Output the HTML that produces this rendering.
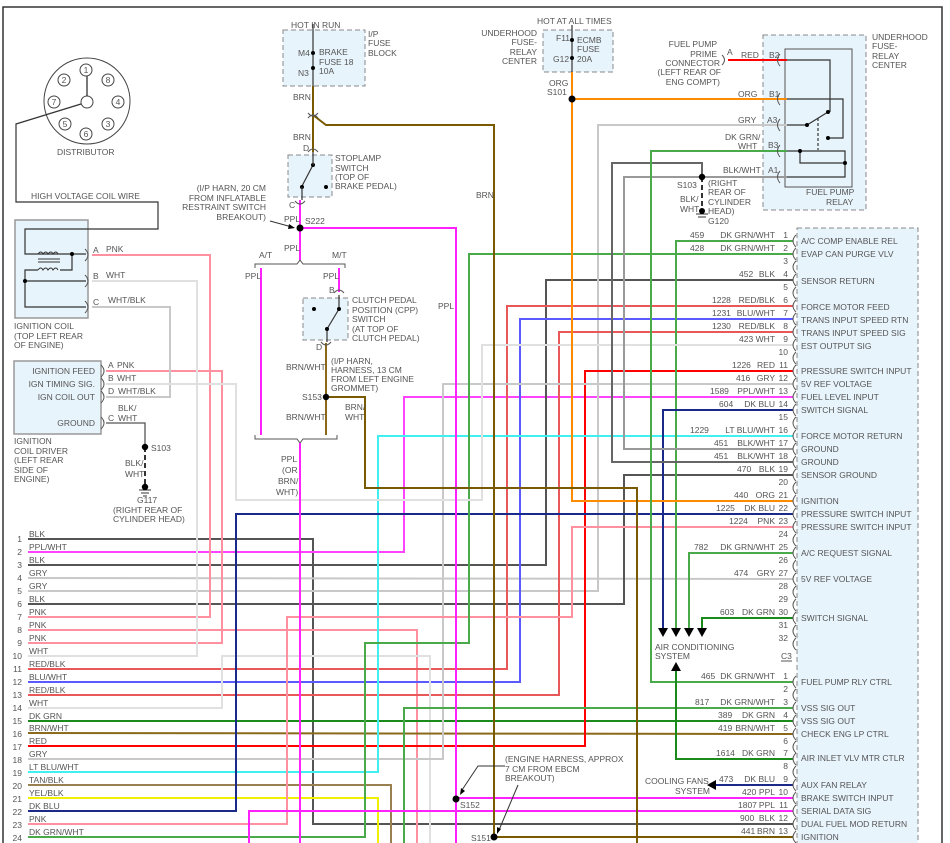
<!DOCTYPE html>
<html><head><meta charset="utf-8">
<style>
html,body{margin:0;padding:0;background:#fff;}
svg{display:block;}
text{font-family:"Liberation Sans",sans-serif;font-size:8.5px;fill:#555;}
.w{fill:none;stroke-width:2;}
.t{fill:none;stroke:#333;stroke-width:1.2;}
</style></head><body>
<svg width="950" height="843" viewBox="0 0 950 843" xmlns="http://www.w3.org/2000/svg">
<polyline points="3,843 3,7 942,7 942,843" fill="none" stroke="#333" stroke-width="1.5"/>

<rect x="283" y="30" width="82" height="56" fill="#e8f4fb" stroke="#888" stroke-dasharray="5,3"/>
<rect x="543" y="30" width="70" height="42" fill="#e8f4fb" stroke="#888" stroke-dasharray="5,3"/>
<rect x="763" y="35" width="103" height="175" fill="#e8f4fb" stroke="#888" stroke-dasharray="5,3"/>
<rect x="785" y="49" width="67" height="138" fill="none" stroke="#555"/>
<rect x="288" y="155" width="44" height="42" fill="#e8f4fb" stroke="#888" stroke-dasharray="5,3"/>
<rect x="303" y="298" width="45" height="42" fill="#e8f4fb" stroke="#888" stroke-dasharray="5,3"/>
<rect x="15" y="220" width="73" height="98" fill="#e8f4fb" stroke="#999" stroke-width="1.5"/>
<rect x="14" y="361" width="87" height="73" fill="#e8f4fb" stroke="#999" stroke-width="1.5"/>
<rect x="797" y="228" width="121" height="620" fill="#e8f4fc" stroke="#888" stroke-dasharray="5,3"/>

<circle cx="87" cy="101" r="43" fill="none" stroke="#444"/>
<circle cx="87" cy="102" r="6" fill="#fff" stroke="#444"/>
<line x1="87" y1="96" x2="87" y2="76" stroke="#222" stroke-width="1.2"/>
<g fill="none" stroke="#444"><circle cx="86" cy="70" r="6"/><circle cx="64" cy="80" r="6"/><circle cx="108" cy="80" r="6"/><circle cx="54" cy="102" r="6"/><circle cx="118" cy="102" r="6"/><circle cx="65" cy="124" r="6"/><circle cx="108" cy="124" r="6"/><circle cx="86" cy="134" r="6"/></g>
<g style="font-size:7px" text-anchor="middle"><text x="86" y="73">1</text><text x="64" y="83">2</text><text x="108" y="83">8</text><text x="54" y="105">7</text><text x="118" y="105">4</text><text x="65" y="127">5</text><text x="108" y="127">3</text><text x="86" y="137">6</text></g>
<polyline class="t" points="81,104 16,124 16,202 158,202 158,229 25,229 25,254 86,254"/>
<path d="M38,254 q3,-4 5,0 q3,-4 5,0 q3,-4 5,0 q3,-4 5,0" fill="none" stroke="#333"/>
<line x1="38" y1="259" x2="60" y2="259" stroke="#333"/><line x1="38" y1="262" x2="60" y2="262" stroke="#333"/>
<path d="M38,270 q3,-4 5,0 q3,-4 5,0 q3,-4 5,0 q3,-4 5,0" fill="none" stroke="#333"/>
<polyline class="t" points="72,254 72,270 60,270"/><polyline class="t" points="38,270 25,270 25,307 86,307"/><line class="t" x1="25" y1="281" x2="86" y2="281"/>
<circle cx="72" cy="254" r="2" fill="#000"/><circle cx="25" cy="281" r="2" fill="#000"/>

<line class="t" x1="313" y1="24" x2="313" y2="86"/>
<circle cx="313" cy="53" r="2" fill="#000"/><circle cx="313" cy="68" r="2" fill="#000"/>
<line class="t" x1="572" y1="25" x2="572" y2="72"/>
<circle cx="572" cy="40" r="2" fill="#000"/><circle cx="572" cy="58" r="2" fill="#000"/>

<g class="t" stroke-width="1">
<polyline points="787,60 830,60 830,112"/>
<polyline points="787,99 843,99 843,138 828,138"/>
<polyline points="787,125 807,125 828,112"/>
<polyline points="787,151 800,151 800,163 845,163"/>
<polyline points="800,151 845,151 845,177 787,177"/>
<line x1="818" y1="118" x2="818" y2="150" stroke-dasharray="3,2"/>
</g>
<circle cx="807" cy="125" r="2" fill="#000"/><circle cx="828" cy="112" r="2" fill="#000"/><circle cx="828" cy="138" r="2" fill="#000"/><circle cx="800" cy="151" r="2" fill="#000"/><circle cx="845" cy="163" r="2" fill="#000"/>

<line class="t" x1="313" y1="165" x2="302" y2="186"/><circle cx="313" cy="165" r="2" fill="#000"/><circle cx="302" cy="187" r="2" fill="#000"/><circle cx="326" cy="187" r="2" fill="#000"/>
<line class="t" x1="313" y1="152" x2="313" y2="165"/><line class="t" x1="302" y1="187" x2="302" y2="200"/>
<line class="t" x1="339" y1="295" x2="339" y2="309"/><line class="t" x1="339" y1="309" x2="327" y2="329"/><line class="t" x1="327" y1="329" x2="327" y2="342"/>
<circle cx="339" cy="309" r="2" fill="#000"/><circle cx="327" cy="329" r="2" fill="#000"/><circle cx="314" cy="309" r="2" fill="#000"/>

<path d="M255,268 v-4 h42 l3,-4 l3,4 h42 v4" fill="none" stroke="#555"/>
<path d="M255,435 v4 h42 l3,4 l3,-4 h34 v-4" fill="none" stroke="#555"/>

<g class="w">
<polyline stroke="#555" points="28,539 313,539 313,824 793,824"/>
<polyline stroke="#ff44ff" points="28,552 404,552 404,397 793,397"/>
<polyline stroke="#555" points="28,565 546,565 546,280 793,280"/>
<polyline stroke="#c8c8c8" points="28,578 793,579"/>
<polyline stroke="#c8c8c8" points="28,591 598,591 598,125 787,125"/>
<polyline stroke="#555" points="28,604 624,604 624,475 793,475"/>
<polyline stroke="#ff90a0" points="28,617 210,617 210,255 92,255"/>
<polyline stroke="#ff90a0" points="28,630 417,630 417,843"/>
<polyline stroke="#ff90a0" points="28,643 222,643 222,371 106,371"/>
<polyline stroke="#e0e0e0" points="28,656 197,656 197,281 92,281"/>
<polyline stroke="#c8c8c8" points="92,307 170,307 170,397 106,397"/>
<polyline stroke="#e85858" points="28,669 507,669 507,306 793,306"/>
<polyline stroke="#5a5aff" points="28,682 520,682 520,319 793,319"/>
<polyline stroke="#e85858" points="28,695 559,695 559,332 793,332"/>
<polyline stroke="#e0e0e0" points="28,708 222,708 222,656 430,656 430,843"/>
<polyline stroke="#1a8a1a" points="28,721 793,721"/>
<polyline stroke="#8a6a1a" points="28,733 793,734"/>
<polyline stroke="#ff0000" points="28,746 585,746 585,371 793,371"/>
<polyline stroke="#c8c8c8" points="28,759 443,759 443,384 793,384"/>
<polyline stroke="#40f0f0" points="28,772 378,772 378,436 793,436"/>
<polyline stroke="#9a8050" points="28,785 391,785 391,843"/>
<polyline stroke="#f0f000" points="28,798 378,798 378,843"/>
<polyline stroke="#1a2a8a" points="28,811 236,811 236,514 793,514"/>
<polyline stroke="#ff90a0" points="28,824 287,824 287,617 572,617 572,527 793,527"/>
<polyline stroke="#4aaa4a" points="28,837 365,837 365,643 469,643 469,254 793,254"/>
<polyline stroke="#4aaa4a" points="793,241 676,241 676,630"/>
<polyline stroke="#e0e0e0" points="793,345 482,345 482,500 236,500 236,384 106,384"/>
<polyline stroke="#1a2a8a" points="793,410 663,410 663,630"/>
<polyline stroke="#999" points="793,449 624,449 624,177 787,177"/>
<polyline stroke="#666" points="793,462 612,462 612,163 702,163 702,177"/>
<polyline stroke="#ff8c00" points="572,72 572,501 793,501"/>
<line stroke="#ff8c00" x1="572" y1="99" x2="787" y2="99"/>
<polyline stroke="#4aaa4a" points="793,553 689,553 689,630"/>
<polyline stroke="#1a8a1a" points="793,618 702,618 702,630"/>
<polyline stroke="#4aaa4a" points="793,682 651,682 651,151 787,151"/>
<polyline stroke="#4aaa4a" points="793,708 404,708 404,843"/>
<polyline stroke="#1a8a1a" points="793,759 676,759 676,668"/>
<polyline stroke="#1a2a8a" points="793,785 714,785"/>
<polyline stroke="#ff22ff" points="456,798 793,798"/>
<polyline stroke="#ff22ff" points="249,843 249,811 793,811"/>
<polyline stroke="#7a5a00" points="313,86 313,152"/>
<polyline stroke="#7a5a00" points="313,115 326,125 494,125 494,837 793,837"/>
<polyline stroke="#ff22ff" points="300,200 300,260"/>
<polyline stroke="#ff22ff" points="300,228 456,228 456,843"/>
<polyline stroke="#ff22ff" points="261,268 261,435"/>
<polyline stroke="#ff22ff" points="339,268 339,292"/>
<polyline stroke="#ff22ff" points="300,443 300,843"/>
<polyline stroke="#8a6a1a" points="326,343 326,435"/>
<polyline stroke="#7a5a00" points="326,397 365,397 365,488 637,488 637,843"/>
<polyline stroke="#ff0000" points="728,60 787,60"/>
<polyline stroke="#555" stroke-width="1.3" points="106,423 145,423 145,447"/>
</g>
<line x1="145" y1="447" x2="145" y2="487" stroke="#333" stroke-width="2" stroke-dasharray="5,3"/>
<line x1="702" y1="177" x2="702" y2="211" stroke="#333" stroke-width="2" stroke-dasharray="5,3"/>
<g stroke="#333"><line x1="139" y1="490" x2="151" y2="490"/><line x1="141" y1="493" x2="149" y2="493"/><line x1="143" y1="496" x2="147" y2="496"/>
<line x1="696" y1="214" x2="708" y2="214"/><line x1="698" y1="217" x2="706" y2="217"/></g>

<g fill="#000"><circle cx="300" cy="228" r="3.5"/><circle cx="326" cy="397" r="3.2"/><circle cx="572" cy="99" r="3.5"/><circle cx="702" cy="177" r="3.2"/><circle cx="145" cy="447" r="3.2"/><circle cx="145" cy="487" r="3.2"/><circle cx="702" cy="211" r="3"/><circle cx="456" cy="799" r="3.5"/><circle cx="494" cy="837" r="3.5"/></g>

<g fill="#000"><path d="M658,628 h10 l-5,9z"/><path d="M671,628 h10 l-5,9z"/><path d="M684,628 h10 l-5,9z"/><path d="M697,628 h10 l-5,9z"/><path d="M671,671 h10 l-5,-9z"/><path d="M716,780 v10 l-9,-5z"/></g>
<g stroke="#333" fill="none"><polyline points="270,221 292,227"/><polyline points="505,766 478,766 462,790"/><polyline points="518,785 499,830"/></g>
<g fill="#000"><path d="M295,228 l-6,-4 l-1,5z"/><path d="M460,795 l1,-7 l4,3z"/><path d="M497,834 l0,-7 l4,2z"/></g>

<g fill="none" stroke="#555" stroke-width="1">
<path d="M796,235 Q790,241 796,247"/><path d="M796,248 Q790,254 796,260"/><path d="M796,261 Q790,267 796,273"/><path d="M796,274 Q790,280 796,286"/><path d="M796,287 Q790,293 796,299"/><path d="M796,300 Q790,306 796,312"/><path d="M796,313 Q790,319 796,325"/><path d="M796,326 Q790,332 796,338"/><path d="M796,339 Q790,345 796,351"/><path d="M796,352 Q790,358 796,364"/><path d="M796,365 Q790,371 796,377"/><path d="M796,378 Q790,384 796,390"/><path d="M796,391 Q790,397 796,403"/><path d="M796,404 Q790,410 796,416"/><path d="M796,417 Q790,423 796,429"/><path d="M796,430 Q790,436 796,442"/><path d="M796,443 Q790,449 796,455"/><path d="M796,456 Q790,462 796,468"/><path d="M796,469 Q790,475 796,481"/><path d="M796,482 Q790,488 796,494"/><path d="M796,495 Q790,501 796,507"/><path d="M796,508 Q790,514 796,520"/><path d="M796,521 Q790,527 796,533"/><path d="M796,534 Q790,540 796,546"/><path d="M796,547 Q790,553 796,559"/><path d="M796,560 Q790,566 796,572"/><path d="M796,573 Q790,579 796,585"/><path d="M796,586 Q790,592 796,598"/><path d="M796,599 Q790,605 796,611"/><path d="M796,612 Q790,618 796,624"/><path d="M796,625 Q790,631 796,637"/><path d="M796,638 Q790,644 796,650"/>
<path d="M796,676 Q790,682 796,688"/><path d="M796,689 Q790,695 796,701"/><path d="M796,702 Q790,708 796,714"/><path d="M796,715 Q790,721 796,727"/><path d="M796,728 Q790,734 796,740"/><path d="M796,741 Q790,747 796,753"/><path d="M796,753 Q790,759 796,765"/><path d="M796,766 Q790,772 796,778"/><path d="M796,779 Q790,785 796,791"/><path d="M796,792 Q790,798 796,804"/><path d="M796,805 Q790,811 796,817"/><path d="M796,818 Q790,824 796,830"/><path d="M796,831 Q790,837 796,843"/>
<path d="M780,54 Q775,60 780,66"/><path d="M780,93 Q775,99 780,105"/><path d="M780,119 Q775,125 780,131"/><path d="M780,145 Q775,151 780,157"/><path d="M780,171 Q775,177 780,183"/>
<path d="M85,249 Q91,255 85,261"/><path d="M85,275 Q91,281 85,287"/><path d="M85,301 Q91,307 85,313"/>
<path d="M101,365 Q107,371 101,377"/><path d="M101,378 Q107,384 101,390"/><path d="M101,391 Q107,397 101,403"/><path d="M101,417 Q107,423 101,429"/>
<path d="M308,152 Q313,146 318,152"/><path d="M308,113 Q313,119 318,113"/><path d="M308,118 Q313,112 318,118"/><path d="M295,201 Q300,207 305,201"/><path d="M334,293 Q339,287 344,293"/><path d="M321,342 Q326,348 331,342"/><path d="M722,55 Q727,60 722,65"/>
</g>

<g text-anchor="end">
<text x="788" y="238">1</text><text x="788" y="251">2</text><text x="788" y="264">3</text><text x="788" y="277">4</text><text x="788" y="290">5</text><text x="788" y="303">6</text><text x="788" y="316">7</text><text x="788" y="329">8</text><text x="788" y="342">9</text><text x="788" y="355">10</text><text x="788" y="368">11</text><text x="788" y="381">12</text><text x="788" y="394">13</text><text x="788" y="407">14</text><text x="788" y="420">15</text><text x="788" y="433">16</text><text x="788" y="446">17</text><text x="788" y="459">18</text><text x="788" y="472">19</text><text x="788" y="485">20</text><text x="788" y="498">21</text><text x="788" y="511">22</text><text x="788" y="524">23</text><text x="788" y="537">24</text><text x="788" y="550">25</text><text x="788" y="563">26</text><text x="788" y="576">27</text><text x="788" y="589">28</text><text x="788" y="602">29</text><text x="788" y="615">30</text><text x="788" y="628">31</text><text x="788" y="641">32</text>
<text x="788" y="679">1</text><text x="788" y="692">2</text><text x="788" y="705">3</text><text x="788" y="718">4</text><text x="788" y="731">5</text><text x="788" y="744">6</text><text x="788" y="756">7</text><text x="788" y="769">8</text><text x="788" y="782">9</text><text x="788" y="795">10</text><text x="788" y="808">11</text><text x="788" y="821">12</text><text x="788" y="834">13</text>
<text x="775" y="238">DK GRN/WHT</text><text x="775" y="251">DK GRN/WHT</text><text x="775" y="277">BLK</text><text x="775" y="303">RED/BLK</text><text x="775" y="316">BLU/WHT</text><text x="775" y="329">RED/BLK</text><text x="775" y="342">WHT</text><text x="775" y="368">RED</text><text x="775" y="381">GRY</text><text x="775" y="394">PPL/WHT</text><text x="775" y="407">DK BLU</text><text x="775" y="433">LT BLU/WHT</text><text x="775" y="446">BLK/WHT</text><text x="775" y="459">BLK/WHT</text><text x="775" y="472">BLK</text><text x="775" y="498">ORG</text><text x="775" y="511">DK BLU</text><text x="775" y="524">PNK</text><text x="775" y="550">DK GRN/WHT</text><text x="775" y="576">GRY</text><text x="775" y="615">DK GRN</text>
<text x="775" y="679">DK GRN/WHT</text><text x="775" y="705">DK GRN/WHT</text><text x="775" y="718">DK GRN</text><text x="775" y="731">BRN/WHT</text><text x="775" y="756">DK GRN</text><text x="775" y="782">DK BLU</text><text x="775" y="795">PPL</text><text x="775" y="808">PPL</text><text x="775" y="821">BLK</text><text x="775" y="834">BRN</text>
</g>
<g>
<text x="690" y="238">459</text><text x="690" y="251">428</text><text x="739" y="277">452</text><text x="712" y="303">1228</text><text x="712" y="316">1231</text><text x="712" y="329">1230</text><text x="739" y="342">423</text><text x="732" y="368">1226</text><text x="736" y="381">416</text><text x="710" y="394">1589</text><text x="719" y="407">604</text><text x="690" y="433">1229</text><text x="714" y="446">451</text><text x="714" y="459">451</text><text x="737" y="472">470</text><text x="734" y="498">440</text><text x="716" y="511">1225</text><text x="729" y="524">1224</text><text x="694" y="550">782</text><text x="734" y="576">474</text><text x="720" y="615">603</text>
<text x="701" y="679">465</text><text x="695" y="705">817</text><text x="718" y="718">389</text><text x="718" y="731">419</text><text x="716" y="756">1614</text><text x="719" y="782">473</text><text x="742" y="795">420</text><text x="738" y="808">1807</text><text x="740" y="821">900</text><text x="741" y="834">441</text>
</g>
<g>
<text x="801" y="244">A/C COMP ENABLE REL</text><text x="801" y="257">EVAP CAN PURGE VLV</text><text x="801" y="284">SENSOR RETURN</text><text x="801" y="310">FORCE MOTOR FEED</text><text x="801" y="323">TRANS INPUT SPEED RTN</text><text x="801" y="336">TRANS INPUT SPEED SIG</text><text x="801" y="349">EST OUTPUT SIG</text><text x="801" y="374">PRESSURE SWITCH INPUT</text><text x="801" y="387">5V REF VOLTAGE</text><text x="801" y="400">FUEL LEVEL INPUT</text><text x="801" y="413">SWITCH SIGNAL</text><text x="801" y="439">FORCE MOTOR RETURN</text><text x="801" y="452">GROUND</text><text x="801" y="465">GROUND</text><text x="801" y="478">SENSOR GROUND</text><text x="801" y="504">IGNITION</text><text x="801" y="517">PRESSURE SWITCH INPUT</text><text x="801" y="530">PRESSURE SWITCH INPUT</text><text x="801" y="556">A/C REQUEST SIGNAL</text><text x="801" y="582">5V REF VOLTAGE</text><text x="801" y="621">SWITCH SIGNAL</text>
<text x="801" y="685">FUEL PUMP RLY CTRL</text><text x="801" y="711">VSS SIG OUT</text><text x="801" y="724">VSS SIG OUT</text><text x="801" y="737">CHECK ENG LP CTRL</text><text x="801" y="761">AIR INLET VLV MTR CTLR</text><text x="801" y="788">AUX FAN RELAY</text><text x="801" y="801">BRAKE SWITCH INPUT</text><text x="801" y="814">SERIAL DATA SIG</text><text x="801" y="827">DUAL FUEL MOD RETURN</text><text x="801" y="840">IGNITION</text>
<text x="781" y="659">C3</text>
<line x1="781" y1="661" x2="792" y2="661" stroke="#555"/>
</g>

<g text-anchor="end">
<text x="22" y="542">1</text><text x="22" y="555">2</text><text x="22" y="568">3</text><text x="22" y="581">4</text><text x="22" y="594">5</text><text x="22" y="607">6</text><text x="22" y="620">7</text><text x="22" y="633">8</text><text x="22" y="646">9</text><text x="22" y="659">10</text><text x="22" y="672">11</text><text x="22" y="685">12</text><text x="22" y="698">13</text><text x="22" y="711">14</text><text x="22" y="724">15</text><text x="22" y="737">16</text><text x="22" y="750">17</text><text x="22" y="763">18</text><text x="22" y="776">19</text><text x="22" y="789">20</text><text x="22" y="802">21</text><text x="22" y="815">22</text><text x="22" y="828">23</text><text x="22" y="841">24</text>
</g>
<g>
<text x="29" y="537">BLK</text><text x="29" y="550">PPL/WHT</text><text x="29" y="563">BLK</text><text x="29" y="576">GRY</text><text x="29" y="589">GRY</text><text x="29" y="602">BLK</text><text x="29" y="615">PNK</text><text x="29" y="628">PNK</text><text x="29" y="641">PNK</text><text x="29" y="654">WHT</text><text x="29" y="667">RED/BLK</text><text x="29" y="680">BLU/WHT</text><text x="29" y="693">RED/BLK</text><text x="29" y="706">WHT</text><text x="29" y="719">DK GRN</text><text x="29" y="731">BRN/WHT</text><text x="29" y="744">RED</text><text x="29" y="757">GRY</text><text x="29" y="770">LT BLU/WHT</text><text x="29" y="783">TAN/BLK</text><text x="29" y="796">YEL/BLK</text><text x="29" y="809">DK BLU</text><text x="29" y="822">PNK</text><text x="29" y="835">DK GRN/WHT</text>
</g>

<g>
<text x="291" y="28">HOT IN RUN</text>
<text x="368" y="37">I/P</text><text x="368" y="46">FUSE</text><text x="368" y="56">BLOCK</text>
<text x="298" y="56">M4</text><text x="319" y="55">BRAKE</text><text x="319" y="65">FUSE 18</text><text x="298" y="76">N3</text><text x="319" y="74">10A</text>
<text x="293" y="100">BRN</text><text x="293" y="140">BRN</text><text x="303" y="151">D</text>
<text x="335" y="161">STOPLAMP</text><text x="335" y="171">SWITCH</text><text x="335" y="180">(TOP OF</text><text x="335" y="189">BRAKE PEDAL)</text>
<text x="289" y="208">C</text>
<text x="266" y="191" text-anchor="end">(I/P HARN, 20 CM</text><text x="266" y="201" text-anchor="end">FROM INFLATABLE</text><text x="266" y="210" text-anchor="end">RESTRAINT SWITCH</text><text x="266" y="220" text-anchor="end">BREAKOUT)</text>
<text x="284" y="222">PPL</text><text x="305" y="224">S222</text><text x="284" y="251">PPL</text><text x="259" y="258">A/T</text><text x="332" y="258">M/T</text>
<text x="245" y="279">PPL</text><text x="323" y="279">PPL</text><text x="329" y="293">B</text>
<text x="352" y="303">CLUTCH PEDAL</text><text x="352" y="313">POSITION (CPP)</text><text x="352" y="322">SWITCH</text><text x="352" y="332">(AT TOP OF</text><text x="352" y="341">CLUTCH PEDAL)</text>
<text x="316" y="350">D</text>
<text x="286" y="370">BRN/WHT</text><text x="331" y="364">(I/P HARN,</text><text x="331" y="373">HARNESS, 13 CM</text><text x="331" y="382">FROM LEFT ENGINE</text><text x="331" y="391">GROMMET)</text>
<text x="302" y="400">S153</text><text x="345" y="410">BRN/</text><text x="345" y="420">WHT</text><text x="286" y="420">BRN/WHT</text>
<text x="281" y="462">PPL</text><text x="282" y="473">(OR</text><text x="278" y="484">BRN/</text><text x="276" y="495">WHT)</text>
<text x="438" y="309">PPL</text><text x="476" y="198">BRN</text>
<text x="57" y="155">DISTRIBUTOR</text><text x="31" y="199">HIGH VOLTAGE COIL WIRE</text>
<text x="93" y="253">A</text><text x="106" y="252">PNK</text><text x="93" y="279">B</text><text x="106" y="278">WHT</text><text x="93" y="305">C</text><text x="108" y="303">WHT/BLK</text>
<text x="14" y="329">IGNITION COIL</text><text x="14" y="339">(TOP LEFT REAR</text><text x="14" y="348">OF ENGINE)</text>
<text x="95" y="374" text-anchor="end">IGNITION FEED</text><text x="95" y="387" text-anchor="end">IGN TIMING SIG.</text><text x="95" y="400" text-anchor="end">IGN COIL OUT</text><text x="95" y="426" text-anchor="end">GROUND</text>
<text x="108" y="368">A</text><text x="117" y="368">PNK</text><text x="108" y="381">B</text><text x="117" y="381">WHT</text><text x="108" y="394">D</text><text x="118" y="394">WHT/BLK</text><text x="118" y="411">BLK/</text><text x="108" y="421">C</text><text x="118" y="421">WHT</text>
<text x="151" y="451">S103</text><text x="125" y="466">BLK/</text><text x="125" y="477">WHT</text><text x="137" y="503">G117</text><text x="113" y="513">(RIGHT REAR OF</text><text x="113" y="522">CYLINDER HEAD)</text>
<text x="14" y="444">IGNITION</text><text x="14" y="454">COIL DRIVER</text><text x="14" y="463">(LEFT REAR</text><text x="14" y="473">SIDE OF</text><text x="14" y="482">ENGINE)</text>
<text x="537" y="24">HOT AT ALL TIMES</text>
<text x="537" y="36" text-anchor="end">UNDERHOOD</text><text x="537" y="45" text-anchor="end">FUSE-</text><text x="537" y="55" text-anchor="end">RELAY</text><text x="537" y="64" text-anchor="end">CENTER</text>
<text x="556" y="41">F11</text><text x="577" y="43">ECMB</text><text x="577" y="52">FUSE</text><text x="553" y="62">G12</text><text x="577" y="62">20A</text>
<text x="549" y="86">ORG</text><text x="547" y="95">S101</text>
<text x="717" y="47" text-anchor="end">FUEL PUMP</text><text x="717" y="57" text-anchor="end">PRIME</text><text x="720" y="66" text-anchor="end">CONNECTOR</text><text x="721" y="75" text-anchor="end">(LEFT REAR OF</text><text x="720" y="85" text-anchor="end">ENG COMPT)</text>
<text x="727" y="55">A</text><text x="741" y="58">RED</text><text x="769" y="58">B2</text>
<text x="738" y="97">ORG</text><text x="769" y="97">B1</text><text x="738" y="123">GRY</text><text x="767" y="123">A3</text>
<text x="725" y="140">DK GRN/</text><text x="738" y="149">WHT</text><text x="768" y="148">B3</text><text x="723" y="173">BLK/WHT</text><text x="768" y="173">A1</text>
<text x="872" y="40">UNDERHOOD</text><text x="872" y="49">FUSE-</text><text x="872" y="59">RELAY</text><text x="872" y="68">CENTER</text>
<text x="806" y="195">FUEL PUMP</text><text x="826" y="205">RELAY</text>
<text x="677" y="188">S103</text><text x="708" y="186">(RIGHT</text><text x="708" y="195">REAR OF</text><text x="708" y="205">CYLINDER</text><text x="708" y="214">HEAD)</text>
<text x="680" y="202">BLK/</text><text x="680" y="212">WHT</text><text x="708" y="224">G120</text>
<text x="505" y="762">(ENGINE HARNESS, APPROX</text><text x="505" y="772">7 CM FROM EBCM</text><text x="505" y="781">BREAKOUT)</text>
<text x="460" y="808">S152</text><text x="471" y="841">S151</text>
<text x="655" y="650">AIR CONDITIONING</text><text x="655" y="659">SYSTEM</text>
<text x="645" y="784">COOLING FANS</text><text x="675" y="794">SYSTEM</text>
</g>
</svg>
</body></html>
